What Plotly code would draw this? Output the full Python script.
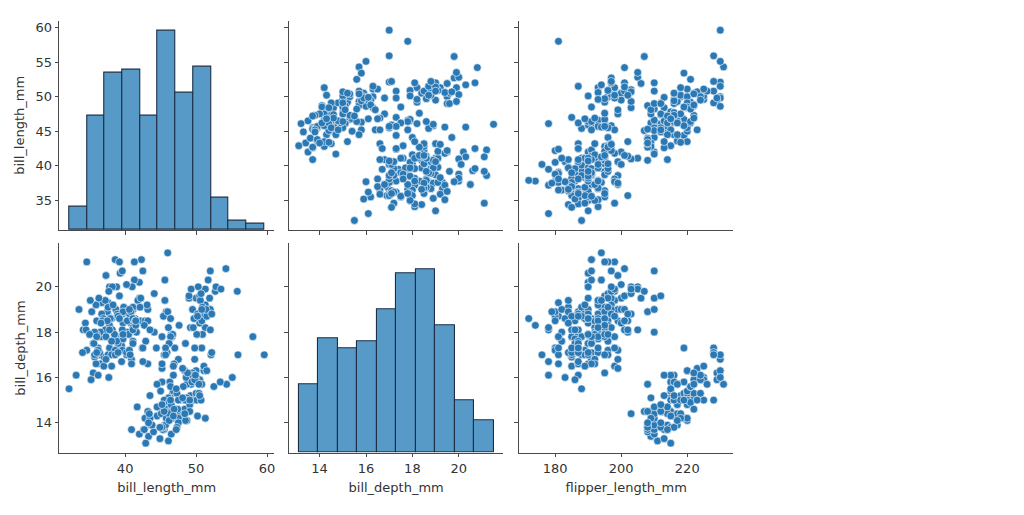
import plotly.graph_objects as go

# ---------------- data (penguins: bill_length, bill_depth, flipper_length) ----------------
bill_length_mm = [
 39.1,39.5,40.3,36.7,39.3,38.9,39.2,34.1,42.0,37.8,37.8,41.1,38.6,34.6,36.6,38.7,42.5,34.4,46.0,
 37.8,37.7,35.9,38.2,38.8,35.3,40.6,40.5,37.9,40.5,
 39.5,37.2,39.5,40.9,36.4,39.2,38.8,42.2,37.6,39.8,36.5,40.8,36.0,44.1,37.0,39.6,41.1,37.5,36.0,42.3,
 39.6,40.1,35.0,42.0,34.5,41.4,39.0,40.6,36.5,37.6,35.7,41.3,37.6,41.1,36.4,41.6,35.5,41.1,
 35.9,41.8,33.5,39.7,39.6,45.8,35.5,42.8,40.9,37.2,36.2,42.1,34.6,42.9,36.7,35.1,
 37.3,41.3,36.3,36.9,38.3,38.9,35.7,41.1,34.0,39.6,36.2,40.8,38.1,40.3,33.1,43.2,
 35.0,41.0,37.7,37.8,37.9,39.7,38.6,38.2,38.1,43.2,38.1,45.6,39.7,42.2,39.6,42.7,
 38.6,37.3,35.7,41.1,36.2,37.7,40.2,41.4,35.2,40.6,38.8,41.5,39.0,44.1,38.5,43.1,
 36.8,37.5,38.1,41.1,35.6,40.2,37.0,39.7,40.2,40.6,32.1,40.7,37.3,39.0,39.2,36.6,36.0,37.8,36.0,41.5,
 46.1,50.0,48.7,50.0,47.6,46.5,45.4,46.7,43.3,46.8,40.9,49.0,45.5,48.4,45.8,49.3,42.0,49.2,46.2,48.7,
 50.2,45.1,46.5,46.3,42.9,46.1,44.5,47.8,48.2,50.0,47.3,42.8,45.1,59.6,49.1,48.4,42.6,44.4,44.0,48.7,
 42.7,49.6,45.3,49.6,50.5,43.6,45.5,50.5,44.9,45.2,46.6,48.5,45.1,50.1,46.5,45.0,43.8,45.5,43.2,50.4,
 45.3,46.2,45.7,54.3,45.8,49.8,46.2,49.5,43.5,50.7,47.7,46.4,48.2,46.5,46.4,48.6,47.5,51.1,45.2,45.2,
 49.1,52.5,47.4,50.0,44.9,50.8,43.4,51.3,47.5,52.1,47.5,52.2,45.5,49.5,44.5,50.8,49.4,46.9,48.4,51.1,
 48.5,55.9,47.2,49.1,47.3,46.8,41.7,53.4,43.3,48.1,50.5,49.8,43.5,51.5,46.2,55.1,44.5,48.8,47.2,46.8,
 50.4,45.2,49.9,
 46.5,50.0,51.3,45.4,52.7,45.2,46.1,51.3,46.0,51.3,46.6,51.7,47.0,52.0,45.9,50.5,50.3,58.0,46.4,49.2,
 42.4,48.5,43.2,50.6,46.7,52.0,50.5,49.5,46.4,52.8,40.9,54.2,42.5,51.0,49.7,47.5,47.6,52.0,46.9,53.5,
 49.0,46.2,50.9,45.5,50.9,50.8,50.1,49.0,51.5,49.8,48.1,51.4,45.7,50.7,42.5,52.2,45.2,49.3,50.2,45.6,
 51.9,46.8,45.7,55.8,43.5,49.6,50.8,50.2,
]
bill_depth_mm = [
 18.7,17.4,18.0,19.3,20.6,17.8,19.6,18.1,20.2,17.1,17.3,17.6,21.2,21.1,17.8,19.0,20.7,18.4,21.5,
 18.3,18.7,19.2,18.1,17.2,18.9,18.6,17.9,18.6,18.9,
 16.7,18.1,17.8,18.9,17.0,21.1,20.0,18.5,19.3,19.1,18.0,18.4,18.5,19.7,16.9,18.8,19.0,18.9,17.9,21.2,
 17.7,18.9,17.9,19.5,18.1,18.6,17.5,18.8,16.6,19.1,16.9,21.1,17.0,18.2,17.1,18.0,16.2,19.1,
 16.6,19.4,19.0,18.4,17.2,18.9,17.5,18.5,16.8,19.4,16.1,19.1,17.2,17.6,18.8,19.4,
 17.8,20.3,19.5,18.6,19.2,18.8,18.0,18.1,17.1,18.1,17.3,18.9,18.6,18.5,16.1,18.5,
 17.9,20.0,16.0,20.0,18.6,18.9,17.2,20.0,17.0,19.0,16.5,20.3,17.7,19.5,20.7,18.3,
 17.0,20.5,17.0,18.6,17.2,19.8,17.0,18.5,15.9,19.0,17.6,18.3,17.1,18.0,17.9,19.2,
 18.5,18.5,17.6,17.5,17.5,20.1,16.5,17.9,17.1,17.2,15.5,17.0,16.8,18.7,18.6,18.4,17.8,18.1,17.1,18.5,
 13.2,16.3,14.1,15.2,14.5,13.5,14.6,15.3,13.4,15.4,13.7,16.1,13.7,14.6,14.6,15.7,13.5,15.2,14.5,15.1,
 14.3,14.5,14.5,15.8,13.1,15.1,14.3,15.0,14.3,15.3,15.3,14.2,14.5,17.0,14.8,16.3,13.7,17.3,13.6,15.7,
 13.7,16.0,13.7,15.0,15.9,13.9,13.9,15.9,13.3,15.8,14.2,14.1,14.4,15.0,14.4,15.4,13.9,15.0,14.5,15.3,
 13.8,14.9,13.9,15.7,14.2,16.8,14.4,16.2,14.2,15.0,15.0,15.6,15.6,14.8,15.0,16.0,14.2,16.3,13.8,16.4,
 14.5,15.6,14.6,15.9,13.8,17.3,14.4,14.2,14.0,17.0,15.0,17.1,14.5,16.1,14.7,15.7,15.8,14.6,14.4,16.5,
 15.0,17.0,15.5,15.0,13.8,16.1,14.7,15.8,14.0,15.1,15.2,15.9,15.2,16.3,14.1,16.0,15.7,16.2,13.7,14.3,
 15.7,14.8,16.1,
 17.9,19.5,19.2,18.7,19.8,17.8,18.2,18.2,18.9,19.9,17.8,20.3,17.3,18.1,17.1,19.6,20.0,17.8,18.6,18.2,
 17.3,17.5,16.6,19.4,17.9,19.0,18.4,19.0,17.8,20.0,16.6,20.8,16.7,18.8,18.6,16.8,18.3,20.7,16.6,19.9,
 19.5,17.5,19.1,17.0,17.9,18.5,17.9,19.6,18.7,17.3,16.4,19.0,17.3,19.7,17.3,18.8,16.6,19.9,18.8,19.4,
 19.5,16.5,17.0,19.8,18.1,18.2,19.0,18.7,
]
flipper_length_mm = [
 181,186,195,193,190,181,195,193,190,186,180,182,191,198,185,195,197,184,194,
 174,180,189,185,180,187,183,187,172,180,
 178,178,188,184,195,196,190,180,181,184,182,195,186,196,185,190,182,179,190,191,
 186,188,190,200,187,191,186,193,181,194,185,195,185,192,184,192,195,188,
 190,198,190,190,196,197,190,195,191,184,187,195,189,196,187,193,
 191,194,190,189,189,190,202,205,185,186,187,208,190,196,178,192,
 192,203,183,190,193,184,199,190,181,197,198,191,193,197,191,196,
 188,199,189,189,187,198,176,202,186,199,191,195,191,210,190,197,
 193,199,187,190,191,200,185,193,193,187,188,190,192,185,190,184,195,193,187,201,
 211,230,210,218,215,210,211,219,209,215,214,216,214,213,210,217,210,221,209,222,
 218,215,213,215,215,215,216,215,210,220,222,209,207,230,220,220,213,219,208,208,
 208,225,210,216,222,217,210,225,213,215,210,220,210,225,217,220,208,220,208,224,
 208,221,214,231,219,230,214,229,220,223,216,221,221,217,216,230,209,220,215,223,
 212,221,212,224,212,228,218,218,212,230,218,228,212,224,214,226,216,222,203,225,
 219,228,215,228,216,215,210,219,208,209,216,229,213,230,217,230,217,222,214,215,
 222,212,213,
 192,196,193,188,197,198,178,197,195,198,193,194,185,201,190,201,197,181,190,195,
 181,191,187,193,195,197,200,200,191,205,187,201,187,203,195,199,195,210,192,205,
 210,187,196,196,196,201,190,212,187,198,199,201,193,203,187,197,191,203,202,194,
 206,189,195,207,202,193,210,198,
]

# histogram counts (shared count scale)
bl_bin_start, bl_bin_width = 32.1, 2.5
bl_counts = [7, 35, 48, 49, 35, 61, 42, 50, 10, 3, 2]
bd_bin_start, bd_bin_width = 13.1, 0.84
bd_counts = [21, 35, 32, 34, 44, 55, 56, 39, 16, 10]

# tick values
bl_ticks = [35, 40, 45, 50, 55, 60]
bl_xticks = [40, 50, 60]
bd_ticks = [14, 16, 18, 20]
fl_ticks = [180, 200, 220]

# ---------------- layout geometry ----------------
W, H = 1024, 515
cols_px = [(59.3, 274.0), (289.0, 503.3), (519.0, 733.3)]
rows_px = [(20.7, 230.0), (243.3, 452.7)]

def xd(c):
    a, b = cols_px[c]
    return [a / W, b / W]

def yd(r):
    a, b = rows_px[r]
    return [1 - b / H, 1 - a / H]

def pad_range(v):
    lo, hi = min(v), max(v)
    m = (hi - lo) * 0.05
    return [lo - m, hi + m]

bl_range = pad_range(bill_length_mm)
bd_range = pad_range(bill_depth_mm)
fl_range = pad_range(flipper_length_mm)

TEXT = "#333333"
LINE = "#4a4a4a"
FONT = dict(family="DejaVu Sans", size=13, color=TEXT)
DOT = "#2a78b4"

def axis(domain, anchor, rng, tickvals, labels=True, title=None):
    d = dict(domain=domain, anchor=anchor, range=rng, tickvals=tickvals,
             showticklabels=labels, showline=True, linecolor=LINE, linewidth=1.2,
             ticks="outside", ticklen=3.5, tickwidth=1, tickcolor=LINE,
             showgrid=False, zeroline=False, mirror=False, tickfont=FONT)
    if title:
        d["title"] = dict(text=title, font=FONT, standoff=7)
    return d

fig = go.Figure()

def scatter(x, y, xa, ya):
    fig.add_trace(go.Scatter(x=x, y=y, mode="markers", xaxis=xa, yaxis=ya,
                             marker=dict(color=DOT, size=7.8, line=dict(color="white", width=0.6)),
                             showlegend=False, hoverinfo="skip"))

# diagonal histograms share one count scale (0 .. 1.05*max count), mapped onto the panel height
count_max = max(max(bl_counts), max(bd_counts)) * 1.05

def hist(start, width, counts, yrange, xa, ya):
    centers = [start + width * (i + 0.5) for i in range(len(counts))]
    span = yrange[1] - yrange[0]
    heights = [c / count_max * span for c in counts]
    fig.add_trace(go.Bar(x=centers, y=heights, base=yrange[0], width=[width] * len(counts),
                         xaxis=xa, yaxis=ya,
                         marker=dict(color="#5799c7", line=dict(color="#1c2f44", width=1.1)),
                         showlegend=False, hoverinfo="skip"))

# row 1 (y = bill_length)
hist(bl_bin_start, bl_bin_width, bl_counts, bl_range, "x", "y")
scatter(bill_depth_mm, bill_length_mm, "x2", "y2")
scatter(flipper_length_mm, bill_length_mm, "x3", "y3")
# row 2 (y = bill_depth)
scatter(bill_length_mm, bill_depth_mm, "x4", "y4")
hist(bd_bin_start, bd_bin_width, bd_counts, bd_range, "x5", "y5")
scatter(flipper_length_mm, bill_depth_mm, "x6", "y6")

fig.update_layout(
    width=W, height=H, margin=dict(l=0, r=0, t=0, b=0),
    paper_bgcolor="white", plot_bgcolor="white", bargap=0,
    font=FONT,
    xaxis=axis(xd(0), "y", bl_range, bl_xticks, labels=False),
    yaxis=axis(yd(0), "x", bl_range, bl_ticks, title="bill_length_mm"),
    xaxis2=axis(xd(1), "y2", bd_range, bd_ticks, labels=False),
    yaxis2=axis(yd(0), "x2", bl_range, bl_ticks, labels=False),
    xaxis3=axis(xd(2), "y3", fl_range, fl_ticks, labels=False),
    yaxis3=axis(yd(0), "x3", bl_range, bl_ticks, labels=False),
    xaxis4=axis(xd(0), "y4", bl_range, bl_xticks, title="bill_length_mm"),
    yaxis4=axis(yd(1), "x4", bd_range, bd_ticks, title="bill_depth_mm"),
    xaxis5=axis(xd(1), "y5", bd_range, bd_ticks, title="bill_depth_mm"),
    yaxis5=axis(yd(1), "x5", bd_range, bd_ticks, labels=False),
    xaxis6=axis(xd(2), "y6", fl_range, fl_ticks, title="flipper_length_mm"),
    yaxis6=axis(yd(1), "x6", bd_range, bd_ticks, labels=False),
)

fig.write_html("out.html")
